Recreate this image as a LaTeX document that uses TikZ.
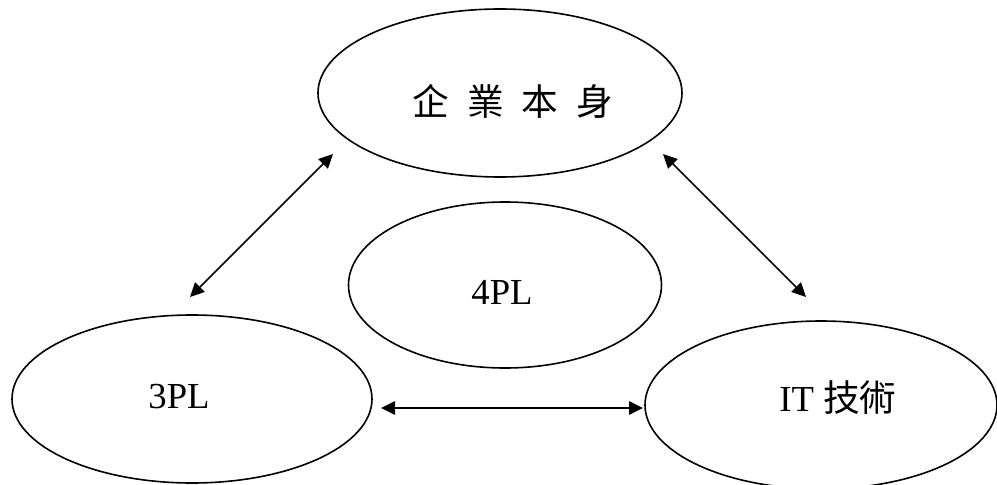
\documentclass[tikz,border=0pt]{standalone}
\usepackage{fontspec}
\setmainfont{Liberation Serif}
\newfontfamily\cjk{Noto Sans CJK TC}
\usetikzlibrary{shapes.geometric,arrows.meta}
\begin{document}
\begin{tikzpicture}[x=0.75pt,y=-0.75pt,
  oval/.style={draw,ellipse,line width=1.2pt,inner sep=0pt},
  lbl/.style={font=\fontsize{27.5pt}{30pt}\selectfont,inner sep=0pt},
  link/.style={line width=1.2pt,{Triangle[length=10.5pt,width=10pt]}-{Triangle[length=10.5pt,width=10pt]}}]
\useasboundingbox (0,0) rectangle (997,485);
\node[oval,minimum width=364*0.75pt,minimum height=168*0.75pt] (top) at (500,93) {};
\node[oval,minimum width=313*0.75pt,minimum height=166*0.75pt] (mid) at (505,285) {};
\node[oval,minimum width=360*0.75pt,minimum height=168*0.75pt] (tpl) at (192,399) {};
\node[oval,minimum width=352*0.75pt,minimum height=168*0.75pt] (it) at (821,405) {};
\node[lbl] (ttop) at (513,101) {\cjk 企\hspace{13.5pt}業\hspace{13.5pt}本\hspace{13.5pt}身};
\node[lbl] (tmid) at (502,292) {4PL};
\node[lbl] (ttpl) at (179,397) {3PL};
\node[lbl] (tit) at (838,398) {IT {\cjk 技術}};
\coordinate (a1) at (333,154);
\coordinate (a2) at (190,297);
\coordinate (b1) at (663,154);
\coordinate (b2) at (806,297);
\coordinate (c1) at (381,408);
\coordinate (c2) at (643,408);
\draw[link] (a2) -- (a1);
\draw[link] (b1) -- (b2);
\draw[link] (c1) -- (c2);
\end{tikzpicture}
\end{document}
